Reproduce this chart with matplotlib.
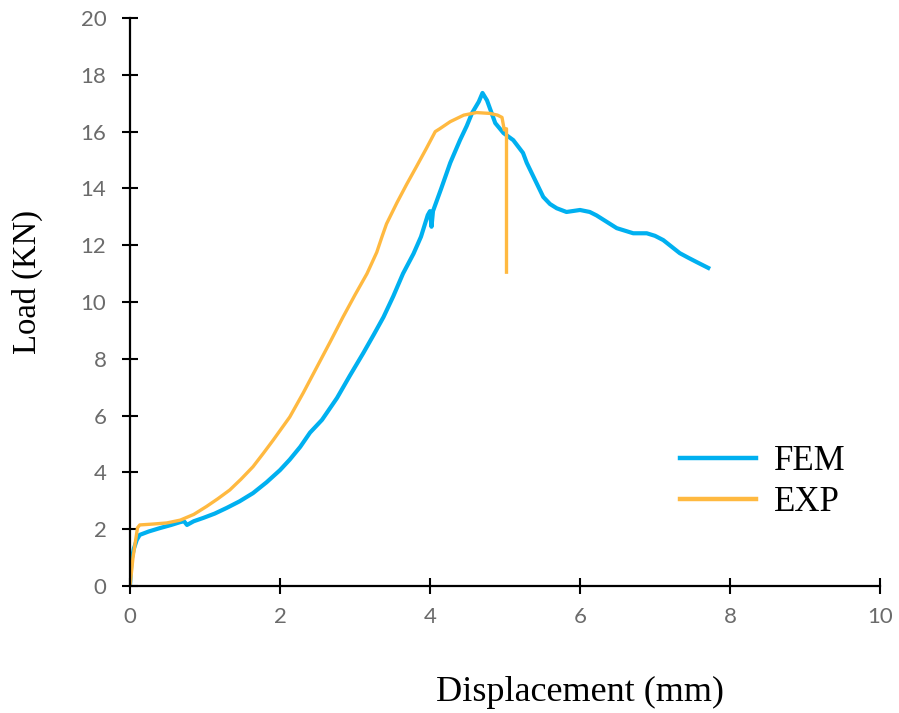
import matplotlib
matplotlib.use("Agg")
import matplotlib.pyplot as plt
from matplotlib.lines import Line2D

# FEM load-displacement curve
fem_disp = [0.0, 0.02, 0.05, 0.09, 0.13, 0.25, 0.4, 0.55, 0.67, 0.72, 0.76, 0.85, 0.98,
            1.13, 1.29, 1.46, 1.64, 1.82, 2.0, 2.13, 2.27, 2.4, 2.56, 2.76, 2.93, 3.11,
            3.25, 3.38, 3.51, 3.64, 3.78, 3.88, 3.97, 4.0, 4.02, 4.04, 4.15, 4.27, 4.4,
            4.49, 4.56, 4.65, 4.7, 4.76, 4.87, 4.98, 5.11, 5.24, 5.29, 5.4, 5.51, 5.6,
            5.69, 5.82, 6.0, 6.13, 6.22, 6.31, 6.49, 6.71, 6.89, 7.0, 7.11, 7.22, 7.33,
            7.45, 7.56, 7.71]
fem_load = [0.0, 0.9, 1.3, 1.62, 1.8, 1.92, 2.04, 2.15, 2.25, 2.28, 2.15, 2.28, 2.4,
            2.55, 2.75, 2.98, 3.27, 3.65, 4.08, 4.45, 4.9, 5.4, 5.85, 6.62, 7.4, 8.2,
            8.85, 9.47, 10.2, 11.0, 11.7, 12.3, 13.06, 13.2, 12.65, 13.2, 14.0, 14.9, 15.7,
            16.2, 16.65, 17.05, 17.36, 17.1, 16.3, 15.95, 15.7, 15.25, 14.9, 14.3, 13.7, 13.45,
            13.3, 13.17, 13.24, 13.17, 13.05, 12.9, 12.6, 12.42, 12.42, 12.33, 12.18, 11.95, 11.72,
            11.55, 11.4, 11.2]

# Experimental load-displacement curve
exp_disp = [0.0, 0.04, 0.1, 0.13, 0.3, 0.49, 0.67, 0.85, 1.02, 1.17, 1.33, 1.48, 1.64,
            1.78, 1.91, 2.13, 2.31, 2.49, 2.67, 2.84, 3.0, 3.16, 3.29, 3.36, 3.42, 3.56,
            3.69, 3.82, 3.95, 4.07, 4.13, 4.27, 4.45, 4.62, 4.8, 4.9, 4.96, 4.99, 5.02, 5.02]
exp_load = [0.0, 1.0, 2.05, 2.15, 2.18, 2.22, 2.32, 2.52, 2.8, 3.07, 3.38, 3.76, 4.2,
            4.68, 5.14, 5.95, 6.8, 7.7, 8.6, 9.47, 10.25, 11.0, 11.75, 12.3, 12.75, 13.5,
            14.15, 14.77, 15.4, 16.0, 16.1, 16.35, 16.58, 16.67, 16.64, 16.58, 16.5, 16.06,
            16.1, 11.05]

x_ticks = [0, 2, 4, 6, 8, 10]
y_ticks = [0, 2, 4, 6, 8, 10, 12, 14, 16, 18, 20]

fem_color = "#00B0F0"
exp_color = "#FFB940"

fig = plt.figure(figsize=(8.99, 7.13), dpi=100)
ax = fig.add_axes([130 / 899, 1 - 586 / 713, 750 / 899, 568 / 713])

ax.plot(fem_disp, fem_load, color=fem_color, lw=3.0, solid_joinstyle="round")
ax.plot(exp_disp, exp_load, color=exp_color, lw=2.4, solid_joinstyle="round")

ax.set_xlim(0, 10)
ax.set_ylim(0, 20)
ax.set_xticks(x_ticks)
ax.set_yticks(y_ticks)

for side in ("top", "right"):
    ax.spines[side].set_visible(False)
for side in ("left", "bottom"):
    ax.spines[side].set_linewidth(1.6)
    ax.spines[side].set_color("black")

ax.tick_params(direction="inout", length=12, width=1.5, color="black",
               labelsize=16, labelcolor="#6B6B6B")
ax.tick_params(axis="y", pad=11)
ax.tick_params(axis="x", pad=9)
for lbl in ax.get_xticklabels() + ax.get_yticklabels():
    lbl.set_fontfamily("Lato")

serif = "Liberation Serif"
fig.text(580 / 899, 1 - 692 / 713, "Displacement (mm)", fontsize=26,
         family=serif, ha="center", va="center")
fig.text(27 / 899, 1 - 282 / 713, "Load (KN)", fontsize=23.5, family=serif,
         ha="center", va="center", rotation=90)

handles = [Line2D([], [], color=fem_color, lw=3.2),
           Line2D([], [], color=exp_color, lw=3.2)]
leg = ax.legend(handles, ["FEM", "EXP"], loc="center left",
                bbox_to_anchor=((680 - 130) / 750, (586 - 482) / 568),
                frameon=False, borderpad=0, borderaxespad=0,
                handlelength=2.2, handletextpad=0.5,
                labelspacing=0.25, prop={"family": serif, "size": 25})

fig.savefig("out.png", dpi=100)
